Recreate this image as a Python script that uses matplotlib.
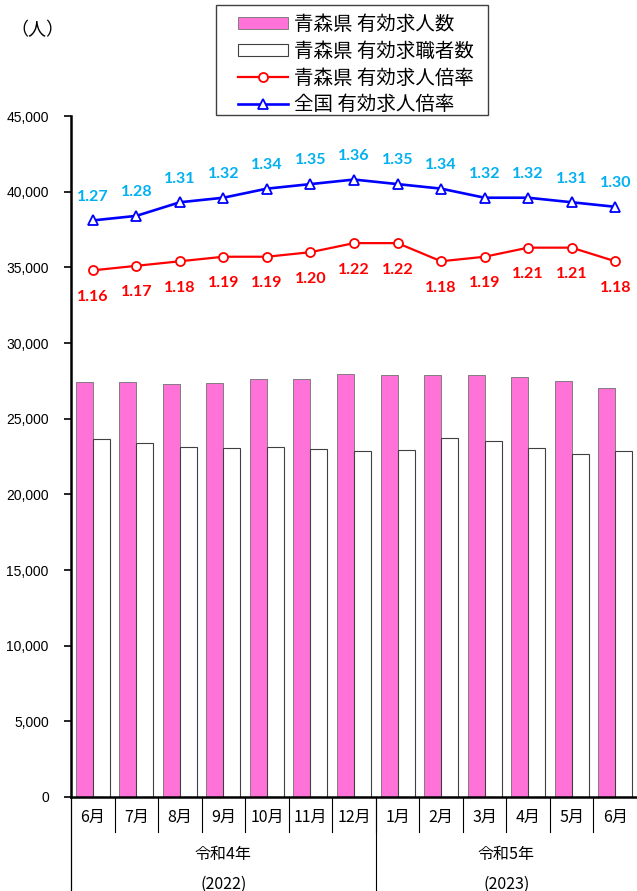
import matplotlib
matplotlib.use("Agg")
import matplotlib.pyplot as plt
import numpy as np
from matplotlib.transforms import blended_transform_factory
from matplotlib.lines import Line2D
from matplotlib.patches import Patch, Rectangle

plt.rcParams['font.family'] = ['Noto Sans CJK JP', 'DejaVu Sans']

months = ['6月', '7月', '8月', '9月', '10月', '11月', '12月',
          '1月', '2月', '3月', '4月', '5月', '6月']
job_offers = [27440, 27440, 27290, 27340, 27600, 27600, 27930,
              27910, 27900, 27860, 27770, 27490, 27000]
job_seekers = [23640, 23410, 23150, 23050, 23100, 23000, 22860,
               22960, 23700, 23520, 23040, 22670, 22860]
aomori_ratio = [1.16, 1.17, 1.18, 1.19, 1.19, 1.20, 1.22,
                1.22, 1.18, 1.19, 1.21, 1.21, 1.18]
national_ratio = [1.27, 1.28, 1.31, 1.32, 1.34, 1.35, 1.36,
                  1.35, 1.34, 1.32, 1.32, 1.31, 1.30]
year_groups = [('令和4年', '(2022)', 0, 6), ('令和5年', '(2023)', 7, 12)]
y_ticks = [0, 5000, 10000, 15000, 20000, 25000, 30000, 35000, 40000, 45000]

legend_labels = ['青森県 有効求人数', '青森県 有効求職者数',
                 '青森県 有効求人倍率', '全国 有効求人倍率']

PINK = '#FF73D8'
RED = '#FF0000'
BLUE = '#0000FF'
LBLUE = '#00B0F0'

W, H = 637, 891
fig = plt.figure(figsize=(W / 100, H / 100), dpi=100)
left, right, bottom, top = 71, 637, 797, 116
ax = fig.add_axes([left / W, 1 - bottom / H, (right - left) / W, (bottom - top) / H])

x = np.arange(len(months))
w = 0.39
ax.bar(x - w / 2, job_offers, w, color=PINK, edgecolor='#707070', linewidth=0.6, zorder=2)
ax.bar(x + w / 2, job_seekers, w, color='white', edgecolor='#404040', linewidth=0.8, zorder=2)

ax.set_xlim(-0.5, len(months) - 0.5)
ax.set_ylim(0, 45000)
ax.set_yticks(y_ticks)
ax.set_yticklabels([f'{v:,}' for v in y_ticks], family='Liberation Sans', fontsize=10)
ax.tick_params(axis='y', direction='out', length=5, width=1.2, pad=11)
ax.set_xticks([])
for s in ['top', 'right']:
    ax.spines[s].set_visible(False)
ax.spines['left'].set_linewidth(1.8)
ax.spines['bottom'].set_linewidth(1.8)

ax2 = ax.twinx()
ax2.set_ylim(0, 1.5)
ax2.axis('off')
ax2.set_xlim(-0.5, len(months) - 0.5)
ax2.plot(x, aomori_ratio, color=RED, lw=1.6, marker='o', ms=6.5,
         mfc='white', mec=RED, mew=1.3, zorder=3)
ax2.plot(x, national_ratio, color=BLUE, lw=1.9, marker='^', ms=6.5,
         mfc='white', mec=BLUE, mew=1.3, zorder=3)

for xi, v in zip(x, national_ratio):
    ax2.annotate(f'{v:.2f}', (xi, v), xytext=(0, 17), textcoords='offset points',
                 ha='center', va='center', color=LBLUE, fontsize=11.5,
                 fontweight='bold', family='Lato')
for xi, v in zip(x, aomori_ratio):
    ax2.annotate(f'{v:.2f}', (xi, v), xytext=(0, -19), textcoords='offset points',
                 ha='center', va='center', color=RED, fontsize=11.5,
                 fontweight='bold', family='Lato')

# category axis
tr = blended_transform_factory(ax.transData, ax.transAxes)
ph = bottom - top
row1 = -(832 - bottom) / ph
row_end = -(H - bottom) / ph
for xi, m in zip(x, months):
    ax.text(xi, -(817 - bottom) / ph, m, transform=tr, ha='center', va='center',
            fontsize=11.5)
for b in np.arange(0.5, len(months) - 1, 1.0):
    ax.add_line(Line2D([b, b], [0, row1], transform=tr, color='black', lw=0.8,
                       clip_on=False))
ax.add_line(Line2D([-0.5, -0.5], [0, row_end], transform=tr, color='black', lw=0.9,
                   clip_on=False))
for name, yr, a, b in year_groups:
    c = (a + b) / 2
    ax.text(c, -(854 - bottom) / ph, name, transform=tr, ha='center', va='center',
            fontsize=11.5)
    ax.text(c, -(884 - bottom) / ph, yr, transform=tr, ha='center', va='center',
            fontsize=11.5)
ax.add_line(Line2D([6.5, 6.5], [0, row_end], transform=tr, color='black', lw=0.8,
                   clip_on=False))

fig.text(37 / W, 1 - 30 / H, '（人）', ha='center', va='center', fontsize=13)

handles = [Patch(facecolor=PINK, edgecolor='#707070', linewidth=0.6),
           Patch(facecolor='white', edgecolor='#404040', linewidth=0.8),
           Line2D([], [], color=RED, lw=1.6, marker='o', ms=6.5, mfc='white', mec=RED, mew=1.3),
           Line2D([], [], color=BLUE, lw=1.9, marker='^', ms=6.5, mfc='white', mec=BLUE, mew=1.3)]
leg = fig.legend(handles, legend_labels, loc='upper left',
                 bbox_to_anchor=(232 / W, 1 - 8 / H), fontsize=14,
                 frameon=False,
                 handlelength=2.6, handleheight=0.6, handletextpad=0.3,
                 labelspacing=0.3, borderpad=0.3, borderaxespad=0)
fig.add_artist(Rectangle((216 / W, 1 - 115 / H), 272 / W, 110 / H,
                         transform=fig.transFigure, fill=False,
                         edgecolor='#404040', linewidth=1.0))

fig.savefig('out.png', dpi=100)
